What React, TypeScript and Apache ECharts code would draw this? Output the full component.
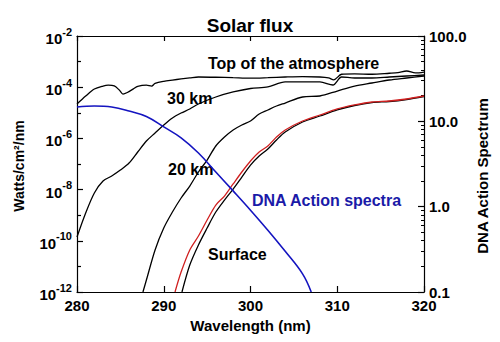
import React, { useEffect, useRef } from "react";
import * as echarts from "echarts";

const FONT = '"Liberation Sans", Arial, Helvetica, sans-serif';

// Wavelength axis (nm)
const wavelengthMin = 280;
const wavelengthMax = 320;

// Left axis: flux (W/cm^2/nm), log scale, odd-decade minor ticks
const fluxMin = 1e-12;
const fluxMax = 1e-2;
const fluxMinorTicks = [1e-11, 1e-9, 1e-7, 1e-5, 1e-3];

// Right axis: DNA action spectrum, log scale
const dnaMin = 0.1;
const dnaMax = 100;

// Top of the atmosphere
const toaWavelength = [280, 281, 282, 283, 283.6, 284.3, 284.9, 285.3, 285.8, 286.5, 287, 288, 288.6, 289, 290, 291, 292, 293, 294, 296, 298, 300, 302, 304, 306, 308, 309, 309.6, 310.5, 312, 314, 316, 317, 318, 319, 320];
const toaFlux = [2.2e-5, 4.5e-5, 8.5e-5, 1.11e-4, 1.2e-4, 1.12e-4, 7.6e-5, 5.4e-5, 6.2e-5, 8.6e-5, 1.08e-4, 1.2e-4, 1.1e-4, 1.4e-4, 1.7e-4, 1.9e-4, 2.1e-4, 2.3e-4, 2.5e-4, 2.45e-4, 2.35e-4, 2.25e-4, 2.35e-4, 2.5e-4, 2.6e-4, 2.5e-4, 2.3e-4, 1.95e-4, 3.2e-4, 3.3e-4, 3.2e-4, 3.5e-4, 3.7e-4, 4.3e-4, 3.6e-4, 3.9e-4];

// 30 km
const km30Wavelength = [280, 281, 282, 283, 284, 285, 286, 287, 288, 289, 290, 291, 292, 293, 294, 296, 298, 300, 302, 304, 306, 308, 309.5, 310.5, 312, 314, 316, 318, 320];
const km30Flux = [1.41e-10, 1.22e-9, 7.4e-9, 2.17e-8, 3.4e-8, 5.8e-8, 1.09e-7, 2.94e-7, 7.9e-7, 1.63e-6, 3.34e-6, 6.3e-6, 9.8e-6, 1.41e-5, 2.21e-5, 4.14e-5, 6.5e-5, 8.9e-5, 1.02e-4, 1.6e-4, 1.6e-4, 1.6e-4, 1.22e-4, 2.5e-4, 2.29e-4, 2.29e-4, 2.5e-4, 2.74e-4, 3.0e-4];

// 20 km
const km20Wavelength = [287.6, 288, 289, 290, 291, 292, 293, 294, 295, 296, 297, 298, 299, 300, 301, 302, 303, 304, 306, 308, 310, 312, 314, 316, 318, 320];
const km20Flux = [1e-12, 2.94e-12, 4.4e-11, 3.16e-10, 1.33e-9, 4.7e-9, 1.38e-8, 4.87e-8, 1.43e-7, 5.05e-7, 1.13e-6, 2.13e-6, 3.34e-6, 4.78e-6, 8.97e-6, 1.29e-5, 1.84e-5, 2.41e-5, 4.14e-5, 4.53e-5, 7.1e-5, 1.11e-4, 1.46e-4, 1.91e-4, 2.29e-4, 2.74e-4];

// Surface (red)
const surfaceRedWavelength = [291.3, 292, 293, 294, 295, 296, 297, 298, 299, 300, 301, 302, 303, 304, 306, 308, 310, 312, 314, 316, 318, 320];
const surfaceRedFlux = [1e-12, 6.0e-12, 4.4e-11, 1.54e-10, 6.5e-10, 2.5e-9, 5.6e-9, 1.66e-8, 4.87e-8, 1.31e-7, 2.94e-7, 5.05e-7, 1.13e-6, 2.13e-6, 4.78e-6, 8.2e-6, 1.41e-5, 2.02e-5, 2.64e-5, 2.89e-5, 3.46e-5, 4.53e-5];

// Surface (black)
const surfaceWavelength = [292.1, 293, 294, 295, 296, 297, 298, 299, 300, 301, 302, 303, 304, 306, 308, 310, 312, 314, 316, 318, 320];
const surfaceFlux = [1e-12, 1.13e-11, 6.9e-11, 3.16e-10, 1.33e-9, 3.9e-9, 1.05e-8, 3.1e-8, 9.1e-8, 2.05e-7, 3.85e-7, 8.7e-7, 1.78e-6, 4.37e-6, 7.5e-6, 1.29e-5, 1.93e-5, 2.52e-5, 2.76e-5, 3.31e-5, 4.33e-5];

// DNA action spectrum (right axis)
const dnaWavelength = [280, 282, 284, 286, 288, 290, 292, 294, 296, 298, 300, 302, 304, 306, 307];
const dnaValue = [14.7, 15.1, 14.7, 13.2, 11.4, 8.6, 6.4, 4.25, 2.55, 1.53, 0.91, 0.53, 0.30, 0.163, 0.1];

const pair = (xs: number[], ys: number[]) => xs.map((x, i) => [x, ys[i]]);

const black = "#000";
const axisLineStyle = { color: black, width: 1.2 };

function buildOption(): any {
  const bold = { fontWeight: "bold", fontFamily: FONT, color: black };
  const blackLine = (name: string, xs: number[], ys: number[]) => ({
    name,
    type: "line",
    xAxisIndex: 0,
    yAxisIndex: 0,
    data: pair(xs, ys),
    showSymbol: false,
    smooth: 0.3,
    lineStyle: { color: black, width: 1.3 },
    z: 3,
  });
  const annot = (text: string, x: number, y: number, fill = black) => ({
    type: "text",
    x,
    y,
    style: { text, fontSize: 16, fontWeight: "bold", fontFamily: FONT, fill, verticalAlign: "middle", align: "left" },
  });
  return {
    animation: false,
    backgroundColor: "#fff",
    title: {
      text: "Solar flux",
      left: "center",
      top: 11,
      textStyle: { fontSize: 19, ...bold },
    },
    grid: { left: 77, right: 76, top: 36, bottom: 50, containLabel: false },
    xAxis: [
      {
        type: "value",
        min: wavelengthMin,
        max: wavelengthMax,
        interval: 10,
        position: "bottom",
        axisLine: { show: true, lineStyle: axisLineStyle },
        axisTick: { show: true, inside: true, length: 6, lineStyle: axisLineStyle },
        axisLabel: { fontSize: 15, margin: 6, ...bold },
        splitLine: { show: false },
        name: "Wavelength (nm)",
        nameLocation: "middle",
        nameGap: 24,
        nameTextStyle: { fontSize: 15, ...bold },
      },
      {
        type: "value",
        min: wavelengthMin,
        max: wavelengthMax,
        interval: 10,
        position: "top",
        axisLine: { show: true, lineStyle: axisLineStyle },
        axisTick: { show: true, inside: true, length: 5, lineStyle: axisLineStyle },
        axisLabel: { show: false },
        splitLine: { show: false },
      },
    ],
    yAxis: [
      {
        type: "log",
        logBase: 100,
        min: fluxMin,
        max: fluxMax,
        position: "left",
        axisLine: { show: true, lineStyle: axisLineStyle },
        axisTick: { show: true, inside: true, length: 6, lineStyle: axisLineStyle },
        splitLine: { show: false },
        axisLabel: {
          margin: 5,
          formatter: (v: number) => `{b|10}{s|${Math.round(Math.log10(v))}}`,
          rich: {
            b: { fontSize: 15, ...bold, verticalAlign: "bottom", lineHeight: 20 },
            s: { fontSize: 11, ...bold, verticalAlign: "top", lineHeight: 20 },
          },
        },
      },
      {
        type: "log",
        logBase: 10,
        min: fluxMin,
        max: fluxMax,
        position: "left",
        axisLine: { show: false },
        axisTick: { show: true, inside: true, length: 4, customValues: fluxMinorTicks, lineStyle: axisLineStyle },
        axisLabel: { show: false },
        splitLine: { show: false },
      },
      {
        type: "log",
        logBase: 10,
        min: dnaMin,
        max: dnaMax,
        position: "right",
        axisLine: { show: true, lineStyle: axisLineStyle },
        axisTick: { show: true, inside: true, length: 6, lineStyle: axisLineStyle },
        minorTick: { show: true, splitNumber: 9, length: 3, lineStyle: { color: black, width: 1 } },
        splitLine: { show: false },
        minorSplitLine: { show: false },
        axisLabel: {
          margin: 5,
          fontSize: 15,
          ...bold,
          formatter: (v: number) => v.toFixed(1),
        },
      },
    ],
    series: [
      blackLine("Top of the atmosphere", toaWavelength, toaFlux),
      blackLine("30 km", km30Wavelength, km30Flux),
      blackLine("20 km", km20Wavelength, km20Flux),
      blackLine("Surface", surfaceWavelength, surfaceFlux),
      {
        name: "Surface (red)",
        type: "line",
        xAxisIndex: 0,
        yAxisIndex: 0,
        data: pair(surfaceRedWavelength, surfaceRedFlux),
        showSymbol: false,
        smooth: 0.3,
        lineStyle: { color: "#d02020", width: 1.3 },
        z: 4,
      },
      {
        name: "DNA Action spectra",
        type: "line",
        xAxisIndex: 0,
        yAxisIndex: 2,
        data: pair(dnaWavelength, dnaValue),
        showSymbol: false,
        smooth: 0.4,
        lineStyle: { color: "#1414c0", width: 1.6 },
        z: 5,
      },
    ],
    graphic: [
      annot("Top of the atmosphere", 208, 63),
      annot("30 km", 167, 98),
      annot("20 km", 168, 169),
      annot("DNA Action spectra", 252, 200, "#1a1aa8"),
      annot("Surface", 208, 254),
      {
        type: "text",
        x: 19,
        y: 166,
        rotation: Math.PI / 2,
        style: { text: "Watts/cm²/nm", fontSize: 14, fontWeight: "bold", fontFamily: FONT, fill: black, align: "center", verticalAlign: "middle" },
      },
      {
        type: "text",
        x: 482,
        y: 176,
        rotation: Math.PI / 2,
        style: { text: "DNA Action Spectrum", fontSize: 15, fontWeight: "bold", fontFamily: FONT, fill: black, align: "center", verticalAlign: "middle" },
      },
    ],
  };
}

export default function App() {
  const ref = useRef<HTMLDivElement>(null);
  useEffect(() => {
    if (!ref.current) return;
    const chart = echarts.init(ref.current, null, { renderer: "svg" });
    chart.setOption(buildOption());
    return () => chart.dispose();
  }, []);
  return (
    <div
      ref={ref}
      style={{ position: "fixed", left: 0, top: 0, width: 500, height: 342, background: "#fff" }}
    />
  );
}
